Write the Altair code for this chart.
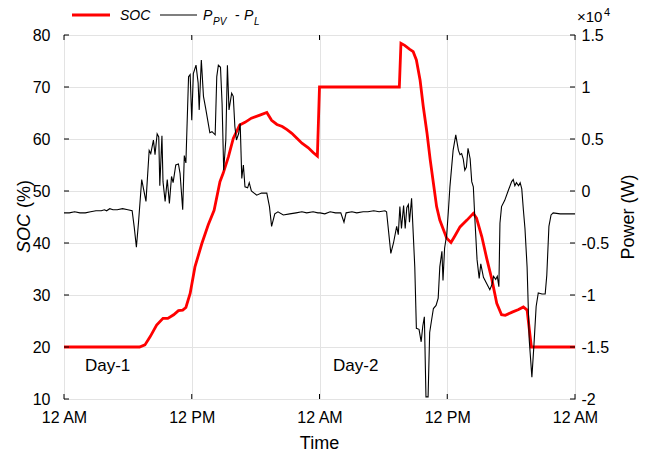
import altair as alt
import pandas as pd

# ---------------- data ----------------
soc_hours = [0, 7.1, 7.6, 8.1, 8.7, 9.3, 9.75, 10.3, 10.75, 11.15,
             11.45, 11.85, 12.3, 12.95, 13.55, 14.1, 14.65, 14.95, 15.45, 15.9,
             16.5, 17.0, 17.6, 18.4, 19.05, 19.5, 20.0, 20.5, 20.95, 21.4,
             21.9, 22.35, 22.95, 23.4, 23.8, 24.0, 31.5, 31.65, 32.0, 32.45,
             32.8, 33.1, 33.45, 33.75, 34.1, 34.4, 34.7, 35.0, 35.3, 35.6,
             35.95, 36.35, 36.7, 37.2, 37.85, 38.45, 38.75, 39.25, 39.7, 40.2,
             40.65, 41.1, 41.45, 42.1, 42.7, 43.15, 43.5, 43.9, 48]
soc_values = [20, 20, 20.4, 22, 24.2, 25.5, 25.5, 26.2, 27, 27.1,
              27.6, 30.3, 35.4, 39.9, 43.5, 46.3, 51.8, 53.4, 56.6, 60.1,
              62.7, 63.2, 64, 64.6, 65.1, 63.6, 62.8, 62.4, 61.8, 61.1,
              60.1, 59.2, 58.3, 57.4, 56.7, 70, 70, 78.4, 78.0, 77.3,
              76.8, 75.2, 71.3, 66.2, 61.1, 56, 51.5, 47, 44.4, 42.8,
              40.9, 40.1, 41.3, 43.1, 44.4, 45.7, 44.8, 41.2, 37.1, 32.9,
              28.4, 26.2, 26.1, 26.7, 27.2, 27.7, 27.1, 20, 20]

# P_PV - P_L in units of 1e4 W
pw_hours = [0.0, 0.5, 1.0, 1.5, 2.0, 2.5, 3.0, 3.5, 3.8, 4.0,
            4.3, 4.6, 5.0, 5.5, 6.0, 6.4, 6.6, 6.8, 7.0, 7.3,
            7.7, 8.0, 8.15, 8.4, 8.55, 8.75, 8.9, 9.0, 9.2, 9.3,
            9.5, 9.7, 9.9, 10.1, 10.25, 10.5, 10.75, 10.9, 11.15, 11.3,
            11.45, 11.7, 11.85, 12.0, 12.15, 12.4, 12.6, 12.7, 12.9, 13.1,
            13.3, 13.55, 13.7, 13.9, 14.2, 14.35, 14.5, 14.7, 14.85, 15.0,
            15.2, 15.35, 15.5, 15.75, 15.9, 16.05, 16.2, 16.4, 16.55, 16.7,
            16.85, 17.0, 17.25, 17.4, 17.6, 18.1, 18.55, 19.05, 19.3, 19.5,
            19.8, 20.1, 20.6, 21.2, 21.8, 22.35, 22.8, 23.4, 23.85, 24.05,
            24.5, 25.0, 25.5, 26.0, 26.3, 26.5, 27.05, 27.5, 28.1, 28.55,
            29.1, 29.6, 30.15, 30.3, 30.7, 30.95, 31.25, 31.4, 31.55, 31.7,
            31.9, 32.05, 32.2, 32.35, 32.45, 32.65, 32.8, 32.95, 33.1, 33.35,
            33.55, 33.7, 33.85, 34.0, 34.2, 34.35, 34.5, 34.7, 34.95, 35.15,
            35.3, 35.5, 35.6, 35.75, 35.95, 36.1, 36.25, 36.55, 36.8, 37.05,
            37.2, 37.35, 37.5, 37.65, 37.8, 37.95, 38.15, 38.3, 38.45, 38.6,
            38.8, 39.0, 39.15, 39.4, 39.7, 40.0, 40.2, 40.35, 40.55, 40.7,
            40.85, 40.95, 41.1, 41.4, 41.75, 42.05, 42.2, 42.35, 42.5, 42.7,
            42.85, 43.0, 43.15, 43.3, 43.5, 43.7, 43.95, 44.15, 44.35, 44.55,
            44.9, 45.2, 45.35, 45.55, 45.75, 45.95, 46.6, 47.2, 48.0]
pw_values = [-0.21, -0.21, -0.20, -0.21, -0.21, -0.20, -0.19, -0.19, -0.18, -0.19,
             -0.17, -0.18, -0.18, -0.17, -0.18, -0.19, -0.35, -0.54, -0.30, 0.11,
             -0.10, 0.39, 0.36, 0.49, 0.35, 0.55, 0.52, 0.05, 0.53, 0.09,
             -0.10, 0.11, -0.12, 0.14, 0.08, 0.25, 0.26, 0.17, -0.18, 0.34,
             0.27, 1.10, 1.12, 0.68, 1.13, 1.21, 1.04, 0.78, 1.26, 0.91,
             0.80, 0.65, 0.56, 0.57, 0.54, 1.10, 1.21, 1.19, 0.84, 0.20,
             0.49, 1.21, 0.78, 0.94, 0.91, 0.62, 0.49, 0.55, 0.65, 0.12,
             0.25, 0.04, 0.03, 0.08, 0.00, -0.04, -0.02, -0.02, -0.15, -0.34,
             -0.22, -0.20, -0.23, -0.22, -0.21, -0.20, -0.21, -0.20, -0.21, -0.21,
             -0.22, -0.20, -0.21, -0.21, -0.30, -0.21, -0.20, -0.21, -0.20, -0.20,
             -0.19, -0.20, -0.19, -0.20, -0.60, -0.50, -0.34, -0.42, -0.15, -0.36,
             -0.14, -0.36, -0.16, -0.13, -0.30, -0.07, -0.40, -0.73, -1.32, -1.33,
             -1.45, -1.30, -1.21, -1.98, -1.98, -1.36, -1.26, -1.13, -1.10, -1.03,
             -0.73, -0.58, -0.86, -0.55, -0.42, -0.20, 0.04, 0.39, 0.54, 0.39,
             0.35, 0.36, 0.31, 0.20, 0.23, 0.41, 0.31, 0.09, 0.04, -0.28,
             -0.66, -0.84, -0.70, -0.83, -0.89, -0.95, -0.90, -0.82, -0.85, -0.82,
             -0.92, -0.31, -0.15, -0.09, 0.01, 0.09, 0.11, 0.05, 0.08, 0.05,
             0.08, 0.02, -0.18, -0.36, -0.73, -1.43, -1.79, -1.47, -1.11, -0.98,
             -0.99, -0.99, -0.81, -0.34, -0.23, -0.21, -0.22, -0.22, -0.22]

x_ticks = [0, 12, 24, 36, 48]
soc_ticks = [10, 20, 30, 40, 50, 60, 70, 80]
power_ticks = [-2, -1.5, -1, -0.5, 0, 0.5, 1, 1.5]

day_labels = ["Day-1", "Day-2"]
day_hours = [1.97, 25.27]
day_soc = [16.3, 16.3]

# ---------------- chart ----------------
W, H = 511, 364
FONT = "Liberation Sans"
GRID = "#e3e3e3"

xscale = alt.Scale(domain=[0, 48], nice=False, zero=False)
soc_scale = alt.Scale(domain=[10, 80], nice=False, zero=False)
pw_scale = alt.Scale(domain=[-2, 1.5], nice=False, zero=False)

soc_df = pd.DataFrame({"hour": soc_hours, "soc": soc_values})
pw_df = pd.DataFrame({"hour": pw_hours, "power": pw_values})

x_axis = alt.Axis(values=x_ticks, title=None, grid=True, gridColor=GRID,
                  ticks=False, domain=False, labelFontSize=16, labelFont=FONT,
                  labelColor="black", labelPadding=10, labelFlush=False,
                  labelOverlap=False,
                  labelExpr="datum.value % 24 == 0 ? '12 AM' : '12 PM'")


def X():
    return alt.X("hour:Q", scale=xscale, axis=x_axis)


soc_line = alt.Chart(soc_df).mark_line(color="#ff0000", strokeWidth=2.8).encode(
    x=X(),
    y=alt.Y("soc:Q", scale=soc_scale,
            axis=alt.Axis(values=soc_ticks, title=None, orient="left", grid=True,
                          gridColor=GRID, ticks=False, domain=False,
                          labelFontSize=16, labelFont=FONT, labelColor="black",
                          labelPadding=14, labelFlush=False, labelOverlap=False)),
)

pw_line = alt.Chart(pw_df).mark_line(color="black", strokeWidth=1.1).encode(
    x=X(),
    y=alt.Y("power:Q", scale=pw_scale,
            axis=alt.Axis(values=power_ticks, title=None, orient="right", grid=False,
                          ticks=False, domain=False, labelFontSize=16, labelFont=FONT,
                          labelColor="black", labelPadding=6, labelFlush=False,
                          labelOverlap=False,
                          labelExpr="'' + datum.value")),
)

xt_df = pd.DataFrame({"hour": x_ticks})
yt_df = pd.DataFrame({"soc": soc_ticks})

top_ticks = alt.Chart(xt_df).mark_rule(color="black", strokeWidth=1).encode(
    x=X(), y=alt.value(0), y2=alt.value(5))
bot_ticks = alt.Chart(xt_df).mark_rule(color="black", strokeWidth=1).encode(
    x=X(), y=alt.value(H), y2=alt.value(H - 5))
left_ticks = alt.Chart(yt_df).mark_rule(color="black", strokeWidth=1).encode(
    y=alt.Y("soc:Q", scale=soc_scale, axis=None), x=alt.value(0), x2=alt.value(5))
right_ticks = alt.Chart(yt_df).mark_rule(color="black", strokeWidth=1).encode(
    y=alt.Y("soc:Q", scale=soc_scale, axis=None), x=alt.value(W), x2=alt.value(W - 5))

day_df = pd.DataFrame({"label": day_labels, "hour": day_hours, "soc": day_soc})
day_text = alt.Chart(day_df).mark_text(align="left", baseline="middle", fontSize=17,
                                       font=FONT, color="black").encode(
    x=X(),
    y=alt.Y("soc:Q", scale=soc_scale, axis=None),
    text="label:N")


def txt(s, x, y, size=14, italic=False, align="left", angle=0, baseline="middle"):
    kw = dict(align=align, baseline=baseline, fontSize=size, font=FONT, color="black")
    if italic:
        kw["fontStyle"] = "italic"
    if angle:
        kw["angle"] = angle
    return alt.Chart(pd.DataFrame({"t": [s]})).mark_text(**kw).encode(
        x=alt.value(x), y=alt.value(y), text="t:N")


# legend
leg_red = alt.Chart(pd.DataFrame({"k": ["SOC"]})).mark_rule(color="#ff0000", strokeWidth=2.8).encode(
    x=alt.value(8), x2=alt.value(46), y=alt.value(-20))
leg_blk = alt.Chart(pd.DataFrame({"k": ["P"]})).mark_rule(color="black", strokeWidth=1.1).encode(
    x=alt.value(96), x2=alt.value(133), y=alt.value(-20))

texts = [
    txt("SOC", 56, -19, 14, italic=True),
    txt("P", 139, -19, 14, italic=True),
    txt("PV", 149, -13, 10, italic=True),
    txt("-", 171, -19, 14),
    txt("P", 180, -19, 14, italic=True),
    txt("L", 190, -13, 10, italic=True),
    # exponent label
    txt("\u00d710", 513, -13, 15, baseline="alphabetic"),
    txt("4", 540, -19, 11, baseline="alphabetic"),
    # axis titles
    txt("SOC", -39, 218, 18, italic=True, angle=270),
    txt("(%)", -39, 173, 18, angle=270),
    txt("Power (W)", 565, 182, 18, align="center", angle=270),
    txt("Time", W / 2, 409, 18, align="center"),
]

chart = alt.layer(
    soc_line, pw_line, top_ticks, bot_ticks, left_ticks, right_ticks, day_text,
    leg_red, leg_blk, *texts
).resolve_scale(y="independent").properties(
    width=W, height=H,
    autosize=alt.AutoSizeParams(type="none"),
    padding={"left": 64, "top": 35, "right": 76, "bottom": 57},
    background="white",
).configure_view(stroke="black", strokeWidth=1)

chart.save("out.html", embed_options={"renderer": "svg", "actions": False})
